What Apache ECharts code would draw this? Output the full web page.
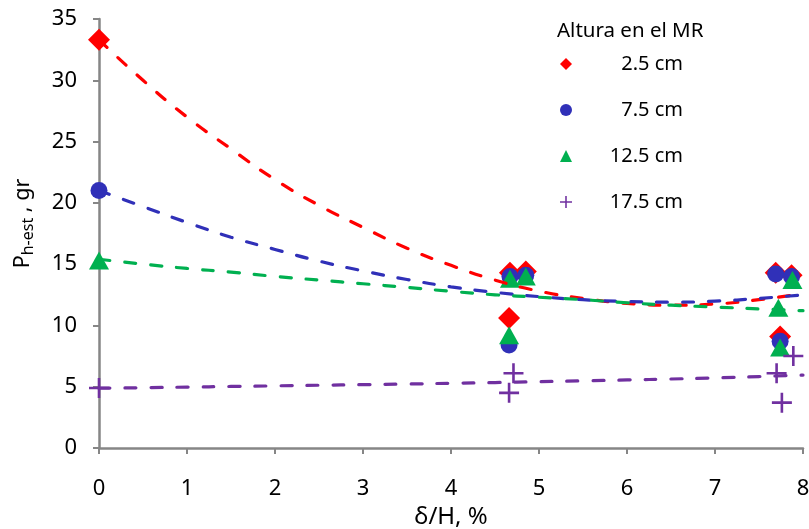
<!DOCTYPE html>
<html>
<head>
<meta charset="utf-8">
<script src="https://cdn.jsdelivr.net/npm/echarts@6/dist/echarts.min.js"></script>
<style>
html,body{margin:0;padding:0;background:#fff;}
#chart{width:809px;height:529px;}
</style>
</head>
<body>
<div id="chart"></div>
<script>
// ---- data ----
const seriesNames = ['2.5 cm', '7.5 cm', '12.5 cm', '17.5 cm'];

const redX   = [0, 4.67, 4.85, 4.66, 7.69, 7.87, 7.74];
const redY   = [33.3, 14.3, 14.4, 10.6, 14.3, 14.1, 9.1];

const blueX  = [0, 4.67, 4.85, 4.66, 7.69, 7.87, 7.74];
const blueY  = [21.0, 14.0, 14.1, 8.4, 14.2, 14.0, 8.7];

const greenX = [0, 4.67, 4.85, 4.66, 7.72, 7.88, 7.74];
const greenY = [15.3, 13.8, 14.0, 9.2, 11.45, 13.7, 8.2];

const purpleX = [0, 4.71, 4.66, 7.89, 7.70, 7.76];
const purpleY = [4.9, 6.1, 4.5, 7.5, 6.1, 3.7];

// trendlines (at these x positions)
const trendX      = [0, 0.5, 1, 1.5, 2, 2.5, 3, 3.5, 4, 4.5, 5, 5.5, 6, 6.5, 7, 7.5, 8];
const trendRed    = [33.3, 30.0, 27.0, 24.4, 21.9, 19.8, 18.0, 16.3, 14.9, 13.7, 12.8, 12.2, 11.8, 11.65, 11.75, 12.1, 12.6];
const trendBlue   = [21.0, 19.7, 18.4, 17.2, 16.2, 15.25, 14.45, 13.75, 13.15, 12.7, 12.35, 12.1, 11.95, 11.9, 11.98, 12.2, 12.5];
const trendGreen  = [15.4, 15.0, 14.65, 14.35, 14.0, 13.7, 13.4, 13.1, 12.78, 12.5, 12.3, 12.1, 11.85, 11.65, 11.5, 11.35, 11.2];
const trendPurple = [4.88, 4.92, 4.97, 5.02, 5.07, 5.12, 5.17, 5.22, 5.28, 5.34, 5.41, 5.48, 5.55, 5.63, 5.72, 5.83, 5.95];

const xTicks = [0, 1, 2, 3, 4, 5, 6, 7, 8];
const yTicks = [0, 5, 10, 15, 20, 25, 30, 35];

// ---- styling ----
const FONT = '"Noto Sans", "Liberation Sans", sans-serif';
const colors = ['#FF0000', '#3030B8', '#00B050', '#7030A0'];
const plusPath = 'path://M8.7,0L11.3,0L11.3,8.7L20,8.7L20,11.3L11.3,11.3L11.3,20L8.7,20L8.7,11.3L0,11.3L0,8.7L8.7,8.7Z';
const symbols = ['diamond', 'circle', 'triangle', plusPath];
const sizes = [[22, 22], 17, [20, 18], 20];

function zip(xs, ys) { return xs.map((x, i) => [x, ys[i]]); }

const scatterData = [zip(redX, redY), zip(blueX, blueY), zip(greenX, greenY), zip(purpleX, purpleY)];
const trendData = [zip(trendX, trendRed), zip(trendX, trendBlue), zip(trendX, trendGreen), zip(trendX, trendPurple)];

const series = [];
seriesNames.forEach((n, i) => {
  series.push({
    name: n,
    type: 'scatter',
    data: scatterData[i],
    symbol: symbols[i],
    symbolSize: sizes[i],
    itemStyle: { color: colors[i], opacity: 1 },
    z: 2,
    silent: true
  });
});
seriesNames.forEach((n, i) => {
  series.push({
    name: 'trend ' + n,
    type: 'line',
    data: trendData[i],
    smooth: true,
    showSymbol: false,
    symbol: 'none',
    lineStyle: { color: colors[i], width: 3.2, type: [11, 15], cap: 'round' },
    z: 3,
    silent: true
  });
});

const chart = echarts.init(document.getElementById('chart'), null, { renderer: 'canvas' });
chart.setOption({
  animation: false,
  backgroundColor: '#ffffff',
  textStyle: { fontFamily: FONT },
  title: {
    text: 'Altura en el MR',
    left: 557,
    top: 21,
    padding: 0,
    textStyle: { fontFamily: FONT, fontSize: 20.5, fontWeight: 'normal', color: '#000' }
  },
  legend: {
    data: seriesNames,
    orient: 'vertical',
    left: 560,
    top: 54,
    padding: 0,
    itemWidth: 12,
    itemHeight: 12,
    itemGap: 26,
    selectedMode: false,
    formatter: name => '{a|' + name + '}',
    textStyle: {
      fontFamily: FONT, fontSize: 20, color: '#000', lineHeight: 20,
      rich: { a: { width: 106, align: 'right', fontFamily: FONT, fontSize: 20, color: '#000' } }
    }
  },
  grid: { left: 99, right: 6, top: 19, bottom: 81, containLabel: false, outerBoundsMode: 'none' },
  xAxis: {
    type: 'value',
    min: xTicks[0], max: xTicks[xTicks.length - 1], interval: 1,
    name: 'δ/H, %',
    nameLocation: 'middle',
    nameGap: 52,
    nameTextStyle: { fontFamily: FONT, fontSize: 24, color: '#000' },
    axisLine: { show: true, onZero: false, lineStyle: { color: '#868686', width: 2.5 } },
    axisTick: { show: true, inside: false, length: 6, lineStyle: { color: '#868686', width: 2 } },
    axisLabel: { margin: 30, fontFamily: FONT, fontSize: 22, color: '#000' },
    splitLine: { show: false }
  },
  yAxis: {
    type: 'value',
    min: yTicks[0], max: yTicks[yTicks.length - 1], interval: 5,
    name: '{p|P}{s|h-est}{p| , gr}',
    nameLocation: 'middle',
    nameGap: 63,
    nameRotate: 90,
    nameTextStyle: {
      fontFamily: FONT, fontSize: 21, color: '#000',
      padding: [0, 0, 0, 20],
      rich: {
        p: { fontFamily: FONT, fontSize: 21.5, lineHeight: 27, color: '#000' },
        s: { fontFamily: FONT, fontSize: 16, lineHeight: 16, verticalAlign: 'bottom', color: '#000' }
      }
    },
    axisLine: { show: true, onZero: false, lineStyle: { color: '#868686', width: 2.5 } },
    axisTick: { show: true, inside: false, length: 6, lineStyle: { color: '#868686', width: 2 } },
    axisLabel: { margin: 22, fontFamily: FONT, fontSize: 22, color: '#000' },
    splitLine: { show: false }
  },
  series: series
});
</script>
</body>
</html>
